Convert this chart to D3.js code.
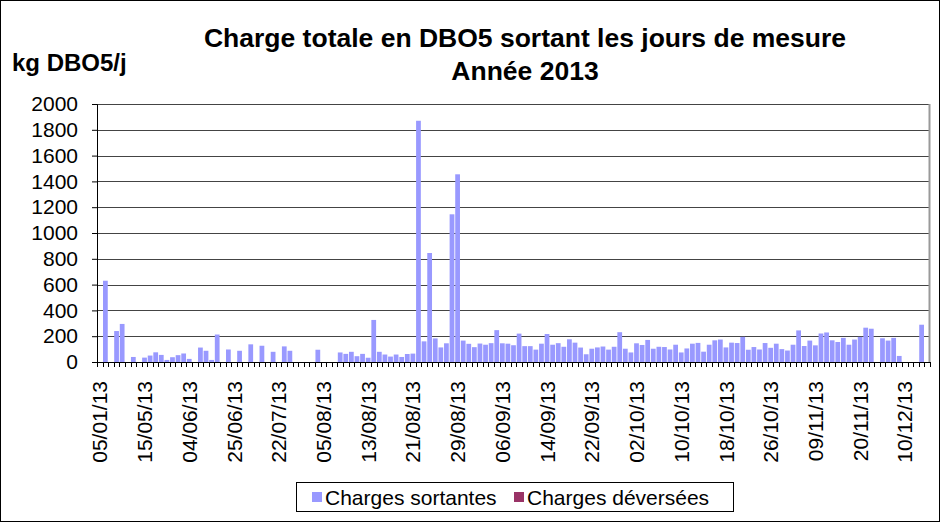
<!DOCTYPE html>
<html>
<head>
<meta charset="utf-8">
<script src="https://cdn.jsdelivr.net/npm/d3@7"></script>
<style>
  body { margin: 0; background: #fff; }
  text { font-family: "Liberation Sans", Arial, sans-serif; }
</style>
</head>
<body>
<div id="chart"></div>
<script>
// dates de mesure (une étiquette sur 8 est affichée)
const dates = [
  '05/01/13','10/01/13','22/01/13','05/02/13','20/02/13','07/03/13','28/03/13','24/04/13','15/05/13','17/05/13',
  '20/05/13','22/05/13','24/05/13','27/05/13','29/05/13','31/05/13','04/06/13','06/06/13','08/06/13','11/06/13',
  '13/06/13','16/06/13','18/06/13','21/06/13','25/06/13','28/06/13','02/07/13','05/07/13','09/07/13','12/07/13',
  '16/07/13','19/07/13','22/07/13','24/07/13','26/07/13','28/07/13','30/07/13','01/08/13','02/08/13','03/08/13',
  '05/08/13','06/08/13','07/08/13','08/08/13','09/08/13','10/08/13','11/08/13','12/08/13','13/08/13','14/08/13',
  '15/08/13','16/08/13','17/08/13','18/08/13','19/08/13','20/08/13','21/08/13','22/08/13','23/08/13','24/08/13',
  '25/08/13','26/08/13','27/08/13','28/08/13','29/08/13','30/08/13','31/08/13','01/09/13','02/09/13','03/09/13',
  '04/09/13','05/09/13','06/09/13','07/09/13','08/09/13','09/09/13','10/09/13','11/09/13','12/09/13','13/09/13',
  '14/09/13','15/09/13','16/09/13','17/09/13','18/09/13','19/09/13','20/09/13','21/09/13','22/09/13','23/09/13',
  '24/09/13','25/09/13','26/09/13','27/09/13','30/09/13','01/10/13','02/10/13','03/10/13','04/10/13','05/10/13',
  '06/10/13','07/10/13','08/10/13','09/10/13','10/10/13','11/10/13','12/10/13','13/10/13','14/10/13','15/10/13',
  '16/10/13','17/10/13','18/10/13','19/10/13','20/10/13','21/10/13','22/10/13','23/10/13','24/10/13','25/10/13',
  '26/10/13','28/10/13','30/10/13','31/10/13','02/11/13','04/11/13','06/11/13','08/11/13','09/11/13','10/11/13',
  '11/11/13','12/11/13','13/11/13','14/11/13','16/11/13','18/11/13','20/11/13','21/11/13','22/11/13','25/11/13',
  '27/11/13','29/11/13','02/12/13','05/12/13','10/12/13','13/12/13','16/12/13','19/12/13','23/12/13'
]

// kg DBO5/j
const chargesSortantes = [
  0, 630, 0, 240, 295, 0, 39, 0, 34, 50,
  75, 55, 16, 37, 53, 66, 24, 0, 112, 87,
  16, 213, 0, 97, 0, 87, 0, 137, 0, 126,
  0, 79, 0, 121, 87, 0, 0, 0, 0, 95,
  0, 0, 0, 74, 63, 79, 45, 63, 33, 326,
  79, 58, 42, 58, 39, 62, 65, 1870, 160, 845,
  183, 113, 145, 1145, 1455, 166, 141, 115, 143, 134,
  146, 247, 145, 142, 130, 220, 123, 123, 96, 142,
  217, 134, 146, 118, 176, 150, 112, 60, 103, 113,
  120, 96, 118, 231, 103, 74, 145, 132, 171, 103,
  118, 116, 97, 134, 74, 105, 142, 148, 80, 134,
  168, 174, 113, 150, 147, 195, 95, 116, 97, 147,
  110, 142, 100, 89, 134, 245, 124, 166, 129, 221,
  229, 168, 155, 187, 134, 174, 195, 266, 258, 0,
  184, 166, 187, 47, 0, 0, 0, 289, 0
]

const chargesDeversees = [
  0,0,0,0,0,0,0,0,0,0, 0,0,0,0,0,0,0,0,0,0, 0,0,0,0,0,0,0,0,0,0,
  0,0,0,0,0,0,0,0,0,0, 0,0,0,0,0,0,0,0,0,0, 0,0,0,0,0,0,0,0,0,0,
  0,0,0,0,0,0,0,0,0,0, 0,0,0,0,0,0,0,0,0,0, 0,0,0,0,0,0,0,0,0,0,
  0,0,0,0,0,0,0,0,0,0, 0,0,0,0,0,0,0,0,0,0, 0,0,0,0,0,0,0,0,0,0,
  0,0,0,0,0,0,0,0,0,0, 0,0,0,0,0,0,0,0,0
]

const yTicks = [0, 200, 400, 600, 800, 1000, 1200, 1400, 1600, 1800, 2000]
const seriesNames = ['Charges sortantes', 'Charges déversées']
const seriesColors = ['#9999ff', '#993366']

const W = 941, H = 525
const margin = {top: 104, right: 11, bottom: 163, left: 97}
const width = W - margin.left - margin.right
const height = H - margin.top - margin.bottom

const svg = d3.select('#chart').append('svg')
  .attr('width', W)
  .attr('height', H)

// cadre extérieur
svg.append('rect')
  .attr('x', 0.5).attr('y', 0.5)
  .attr('width', W - 2).attr('height', H - 4)
  .attr('fill', '#fff')
  .attr('stroke', '#000')

// titre
svg.append('text')
  .attr('x', 525).attr('y', 47)
  .attr('text-anchor', 'middle')
  .style('font-size', '26.5px').style('font-weight', 'bold')
  .text('Charge totale en DBO5 sortant les jours de mesure')
svg.append('text')
  .attr('x', 525).attr('y', 80)
  .attr('text-anchor', 'middle')
  .style('font-size', '26.5px').style('font-weight', 'bold')
  .text('Année 2013')
svg.append('text')
  .attr('x', 12).attr('y', 71)
  .style('font-size', '24px').style('font-weight', 'bold')
  .text('kg DBO5/j')

const g = svg.append('g')
  .attr('transform', 'translate(' + margin.left + ',' + margin.top + ')')

const x = d3.scaleBand()
  .domain(dates)
  .range([0, width])
  .paddingInner(0.15)
  .paddingOuter(0.075)

const y = d3.scaleLinear()
  .domain([0, 2000])
  .range([height, 0])

// grille
g.append('g')
  .selectAll('line')
  .data(yTicks)
  .enter().append('line')
  .attr('x1', 0).attr('x2', width)
  .attr('y1', d => Math.round(y(d)) + 0.5)
  .attr('y2', d => Math.round(y(d)) + 0.5)
  .attr('stroke', '#444')

// bord de la zone de tracé
g.append('line')
  .attr('x1', width - 0.5).attr('x2', width - 0.5)
  .attr('y1', 0).attr('y2', height)
  .attr('stroke', '#999').attr('stroke-width', 2)

// barres
const series = [chargesSortantes, chargesDeversees]
series.forEach(function(values, i) {
  g.append('g')
    .selectAll('rect')
    .data(values.map((v, k) => ({date: dates[k], value: v})).filter(d => d.value > 0))
    .enter().append('rect')
    .attr('x', d => x(d.date))
    .attr('y', d => y(d.value))
    .attr('width', x.bandwidth())
    .attr('height', d => height - y(d.value))
    .attr('fill', seriesColors[i])
})

// axe Y
const yAxis = g.append('g')
  .call(d3.axisLeft(y).tickValues(yTicks).tickFormat(d3.format('d')).tickSize(5).tickPadding(14))
yAxis.select('.domain').attr('stroke', '#000')
yAxis.selectAll('text')
  .style('font-size', '21px')
  .style('font-family', '"Liberation Sans", Arial, sans-serif')
  .attr('fill', '#000')

// axe X : graduations entre les catégories
const step = x.step()
const x0 = x(dates[0]) - x.step() * x.paddingInner() / 2
g.append('g')
  .selectAll('line')
  .data(d3.range(dates.length + 1))
  .enter().append('line')
  .attr('x1', k => Math.round(x0 + k * step) + 0.5)
  .attr('x2', k => Math.round(x0 + k * step) + 0.5)
  .attr('y1', height).attr('y2', height + 5)
  .attr('stroke', '#000')

g.append('line')
  .attr('x1', 0).attr('x2', width)
  .attr('y1', height + 0.5).attr('y2', height + 0.5)
  .attr('stroke', '#000')

g.append('g')
  .selectAll('text')
  .data(dates.filter((d, k) => k % 8 === 0))
  .enter().append('text')
  .attr('transform', d => 'translate(' + (x(d) + x.bandwidth() / 2) + ',' + (height + 19) + ') rotate(-90)')
  .attr('text-anchor', 'end')
  .attr('dy', '0.36em')
  .style('font-size', '21px')
  .text(d => d)

// légende
const legend = svg.append('g').attr('transform', 'translate(296,482)')
legend.append('rect')
  .attr('x', 0.5).attr('y', 0.5)
  .attr('width', 437).attr('height', 29)
  .attr('fill', '#fff').attr('stroke', '#000')
const legendX = [16, 218]
seriesNames.forEach(function(name, i) {
  legend.append('rect')
    .attr('x', legendX[i]).attr('y', 10)
    .attr('width', 10).attr('height', 10)
    .attr('fill', seriesColors[i])
  legend.append('text')
    .attr('x', legendX[i] + 13).attr('y', 23)
    .style('font-size', '21px')
    .text(name)
})
</script>
</body>
</html>
